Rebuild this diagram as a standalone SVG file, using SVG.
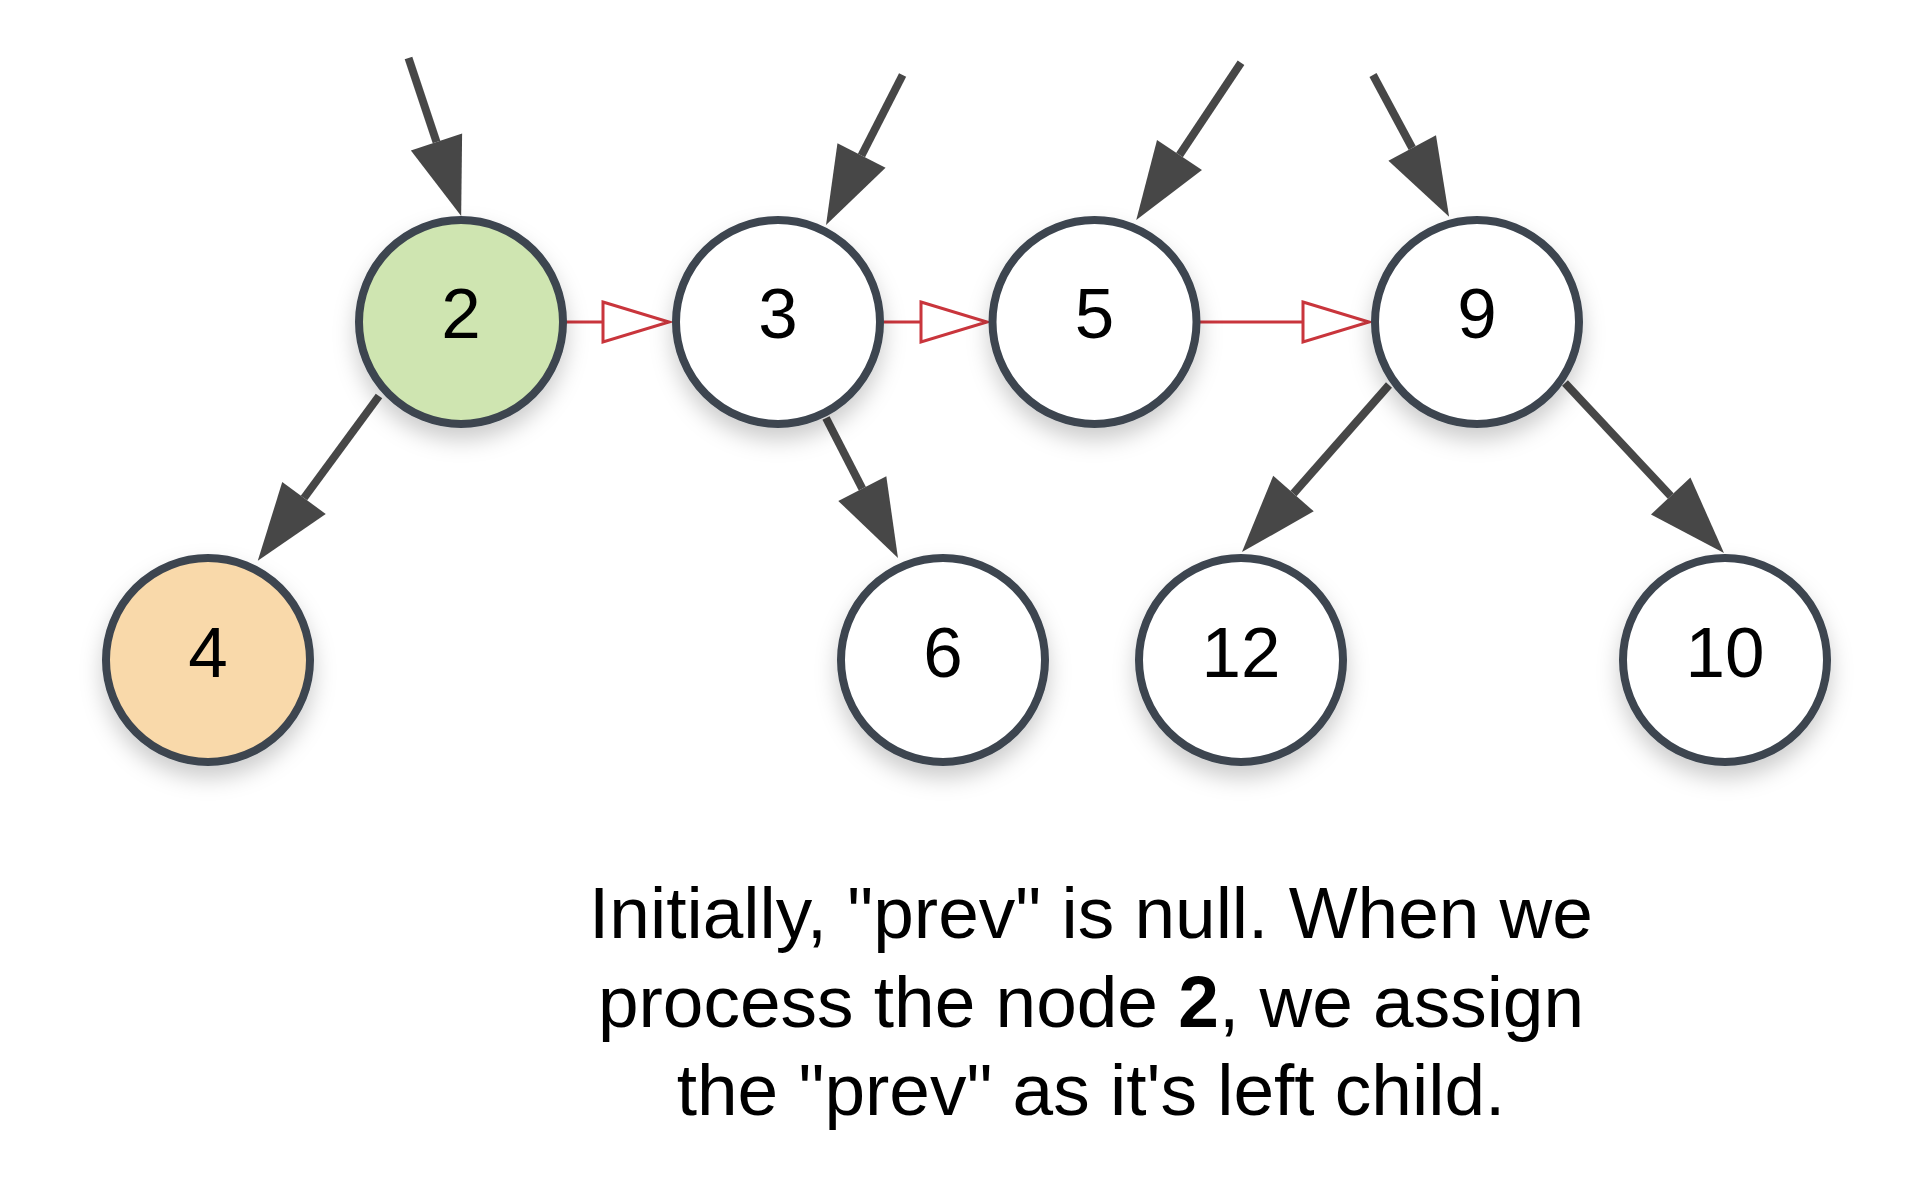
<svg xmlns="http://www.w3.org/2000/svg" width="1926" height="1204" viewBox="0 0 1926 1204">
<style>
.node circle{stroke:#3c4550;stroke-width:8;fill:#ffffff;filter:url(#sh)}
.node text{font-family:"Liberation Sans",Arial,sans-serif;font-size:71px;fill:#000;text-anchor:middle}
.dark{stroke:#474747;stroke-width:8;fill:none;marker-end:url(#ah)}
.red{stroke:#c9353c;stroke-width:3;fill:none;marker-end:url(#oh)}
.cap{font-family:"Liberation Sans",Arial,sans-serif;font-size:73px;fill:#000;text-anchor:middle}
</style>
<defs>
<filter id="sh" x="-40%" y="-40%" width="180%" height="190%">
<feDropShadow dx="0" dy="12" stdDeviation="11" flood-color="#000" flood-opacity="0.2"/>
</filter>
<marker id="ah" markerUnits="userSpaceOnUse" viewBox="0 -30 82 60" markerWidth="82" markerHeight="60" refX="0" refY="0" orient="auto" overflow="visible">
<path d="M0,-27 L78,0 L0,27 Z" fill="#474747"/>
</marker>
<marker id="oh" markerUnits="userSpaceOnUse" viewBox="-2 -23 72 46" markerWidth="72" markerHeight="46" refX="0" refY="0" orient="auto" overflow="visible">
<path d="M0,-20 L66,0 L0,20 Z" fill="#ffffff" stroke="#c9353c" stroke-width="3"/>
</marker>
</defs>
<g id="connectors">
<line class="dark" x1="408.5" y1="58" x2="436.5" y2="142"/>
<line class="dark" x1="902.6" y1="75" x2="861.5" y2="155.5"/>
<line class="dark" x1="1241" y1="62.7" x2="1179.5" y2="155"/>
<line class="dark" x1="1373" y1="75" x2="1412.2" y2="148"/>
<line class="dark" x1="379" y1="396" x2="304" y2="498"/>
<line class="dark" x1="826" y1="418" x2="862.3" y2="488.6"/>
<line class="dark" x1="1389" y1="385" x2="1293.5" y2="493.5"/>
<line class="dark" x1="1565" y1="383" x2="1670.7" y2="496"/>
<line class="red" x1="566" y1="322" x2="603" y2="322"/>
<line class="red" x1="884" y1="322" x2="921" y2="322"/>
<line class="red" x1="1200" y1="322" x2="1303" y2="322"/>
</g>
<g id="node-2" class="node"><circle cx="461" cy="322" r="102" style="fill:#cfe5b1"/><text x="461" y="338">2</text></g>
<g id="node-3" class="node"><circle cx="778" cy="322" r="102"/><text x="778" y="338">3</text></g>
<g id="node-5" class="node"><circle cx="1094.5" cy="322" r="102"/><text x="1094.5" y="338">5</text></g>
<g id="node-9" class="node"><circle cx="1477" cy="322" r="102"/><text x="1477" y="338">9</text></g>
<g id="node-4" class="node"><circle cx="208" cy="660" r="102" style="fill:#f9d9aa"/><text x="208" y="677">4</text></g>
<g id="node-6" class="node"><circle cx="943" cy="660" r="102"/><text x="943" y="677">6</text></g>
<g id="node-12" class="node"><circle cx="1241" cy="660" r="102"/><text x="1241" y="677">12</text></g>
<g id="node-10" class="node"><circle cx="1725" cy="660" r="102"/><text x="1725" y="677">10</text></g>
<g id="caption">
<text class="cap" x="1091" y="938">Initially, "prev" is null. When we</text>
<text class="cap" x="1091" y="1027">process the node <tspan font-weight="bold">2</tspan>, we assign</text>
<text class="cap" x="1091" y="1115">the "prev" as it's left child.</text>
</g>
</svg>
